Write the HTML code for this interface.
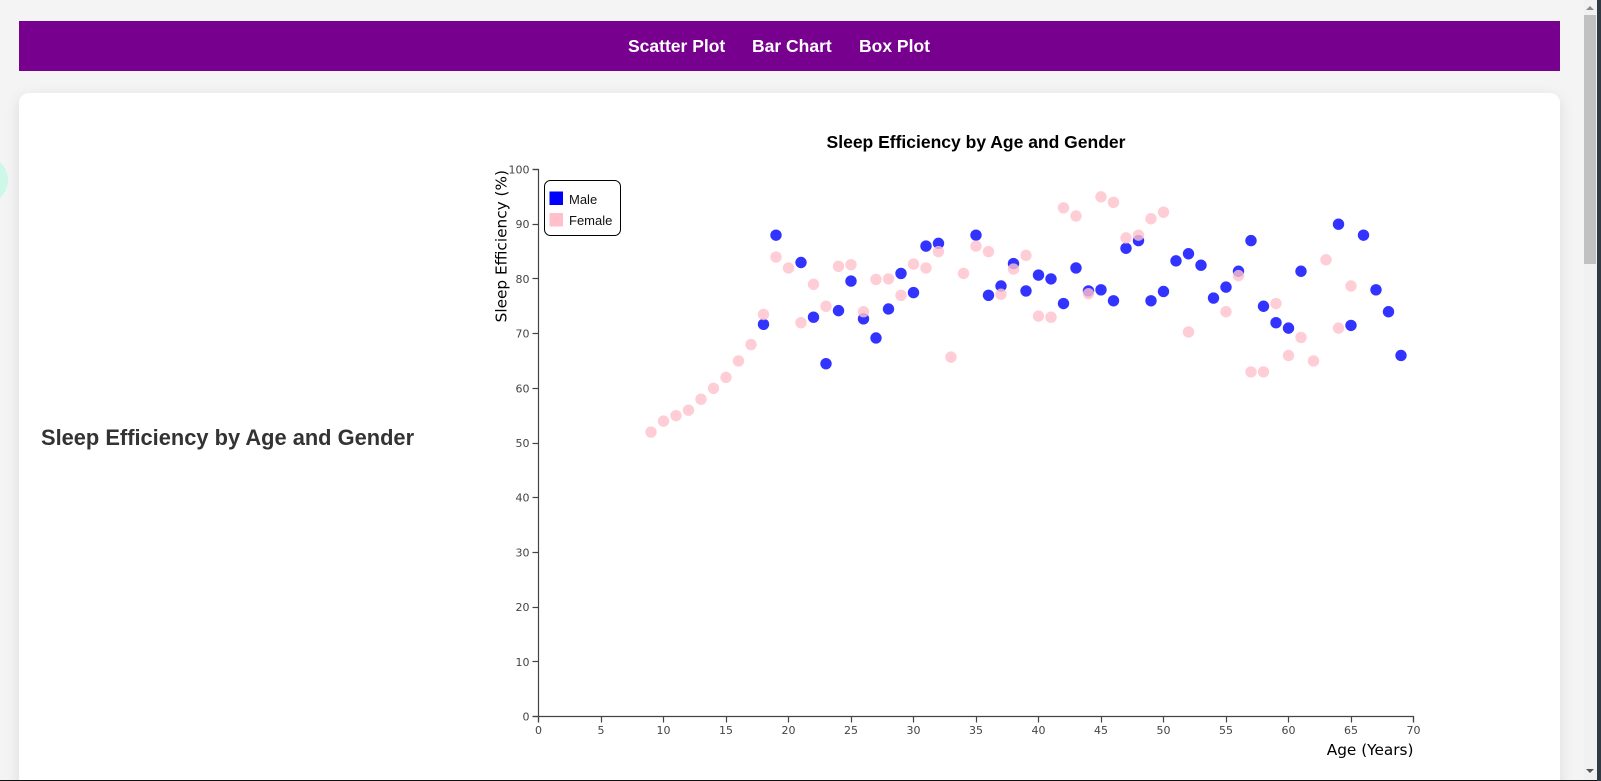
<!DOCTYPE html>
<html lang="en">
<head>
<meta charset="utf-8">
<title>Sleep Efficiency by Age and Gender</title>
<style>
  html, body { margin: 0; padding: 0; width: 1601px; height: 781px; overflow: hidden; background: #f4f4f5; font-family: "Liberation Sans", sans-serif; }
  #page { position: relative; width: 1601px; height: 781px; overflow: hidden; background: #f4f4f5; }
  .abs { position: absolute; }
  #mint-wrap { left: 0; top: 140px; width: 9px; height: 80px; overflow: hidden; }
  #mint { left: -40px; top: 16px; width: 48px; height: 48px; border-radius: 50%; background: #cdf8e8; }
  #header { left: 19px; top: 21px; width: 1541px; height: 50px; background: #78008f; }
  .nav { top: 35px; font-size: 17.5px; font-weight: bold; line-height: 22px; color: #fff; white-space: nowrap; cursor: pointer; }
  #card { left: 19px; top: 93px; width: 1541px; height: 720px; background: #fff; border-radius: 10px; box-shadow: 0 4px 15px rgba(0,0,0,0.1); }
  #side-title { left: 41px; top: 424px; margin: 0; font-size: 21.85px; font-weight: bold; line-height: 28px; color: #333; white-space: nowrap; }
  #chart { left: 0; top: 0; }
  #scroll-track { left: 1584px; top: 0; width: 13px; height: 780px; background: #f1f1f1; }
  #scroll-thumb { left: 1584px; top: 15px; width: 12px; height: 249px; background: #c1c1c1; }
  #scroll-up { left: 1586px; top: 6px; width: 0; height: 0; border-left: 4px solid transparent; border-right: 4px solid transparent; border-bottom: 4px solid #8a8a8a; }
  #scroll-down { left: 1586px; top: 769px; width: 0; height: 0; border-left: 4px solid transparent; border-right: 4px solid transparent; border-top: 4px solid #555; }
  #edge-right { left: 1597px; top: 0; width: 4px; height: 781px; background: #2f3a44; }
  #edge-bottom { left: 0; top: 780px; width: 1597px; height: 1px; background: #111; }
</style>
</head>
<body>
<div id="page">
  <div class="abs" id="mint-wrap"><div class="abs" id="mint"></div></div>
  <div class="abs" id="header"></div>
  <a class="abs nav" style="left:628px">Scatter Plot</a>
  <a class="abs nav" style="left:752px">Bar Chart</a>
  <a class="abs nav" style="left:859px">Box Plot</a>
  <div class="abs" id="card"></div>
  <h2 class="abs" id="side-title">Sleep Efficiency by Age and Gender</h2>

  <svg class="abs" id="chart" width="1601" height="781" xmlns="http://www.w3.org/2000/svg">
    <text x="976" y="148" text-anchor="middle" font-family="'Liberation Sans', sans-serif" font-size="17.5" font-weight="bold" fill="#000">Sleep Efficiency by Age and Gender</text>
    <g id="x-axis"></g>
    <g id="y-axis"></g>
    <text x="1413.5" y="755" text-anchor="end" font-family="'DejaVu Sans', sans-serif" font-size="15.3" fill="#000">Age (Years)</text>
    <text transform="translate(506.5,170) rotate(-90)" text-anchor="end" font-family="'DejaVu Sans', sans-serif" font-size="15.3" fill="#000">Sleep Efficiency (%)</text>
    <g id="male-points"></g>
    <g id="female-points"></g>
    <g>
      <rect x="544.5" y="180.5" width="76" height="55" rx="6" fill="#fff" stroke="#000" stroke-width="1"></rect>
      <rect x="549.5" y="191.5" width="13.5" height="13.5" fill="#0000ff"></rect>
      <text x="569" y="204" font-family="'Liberation Sans', sans-serif" font-size="13" fill="#111">Male</text>
      <rect x="549.5" y="213" width="13.5" height="13.5" fill="#ffc0cb"></rect>
      <text x="569" y="225" font-family="'Liberation Sans', sans-serif" font-size="13" fill="#111">Female</text>
    </g>
  </svg>

  <div class="abs" id="scroll-track"></div>
  <div class="abs" id="scroll-thumb"></div>
  <div class="abs" id="scroll-up"></div>
  <div class="abs" id="scroll-down"></div>
  <div class="abs" id="edge-right"></div>
  <div class="abs" id="edge-bottom"></div>
</div>

<script>
const xTicks = [0, 5, 10, 15, 20, 25, 30, 35, 40, 45, 50, 55, 60, 65, 70];
const yTicks = [0, 10, 20, 30, 40, 50, 60, 70, 80, 90, 100];
const maleAges = [18, 19, 21, 22, 23, 24, 25, 26, 27, 28, 29, 30, 31, 32, 35, 36, 37, 38, 39, 40, 41, 42, 43, 44, 45, 46, 47, 48, 49, 50, 51, 52, 53, 54, 55, 56, 57, 58, 59, 60, 61, 64, 65, 66, 67, 68, 69];
const maleEfficiency = [71.7, 88, 83, 73, 64.5, 74.2, 79.6, 72.7, 69.2, 74.5, 81, 77.5, 86, 86.5, 88, 77, 78.7, 82.8, 77.8, 80.7, 80, 75.5, 82, 77.8, 78, 76, 85.6, 87, 76, 77.7, 83.3, 84.6, 82.5, 76.5, 78.5, 81.4, 87, 75, 72, 71, 81.4, 90, 71.5, 88, 78, 74, 66];
const femaleAges = [9, 10, 11, 12, 13, 14, 15, 16, 17, 18, 19, 20, 21, 22, 23, 24, 25, 26, 27, 28, 29, 30, 31, 32, 33, 34, 35, 36, 37, 38, 39, 40, 41, 42, 43, 44, 45, 46, 47, 48, 49, 50, 52, 55, 56, 57, 58, 59, 60, 61, 62, 63, 64, 65];
const femaleEfficiency = [52, 54, 55, 56, 58, 60, 62, 65, 68, 73.5, 84, 82, 72, 79, 75, 82.3, 82.6, 74, 79.9, 80, 77, 82.7, 82, 85, 65.7, 81, 86, 85, 77.2, 81.8, 84.3, 73.2, 73, 93, 91.5, 77.3, 95, 94, 87.5, 88, 91, 92.2, 70.3, 74, 80.6, 63, 63, 75.5, 66, 69.3, 65, 83.5, 71, 78.7];

const X_DOMAIN = [0, 70];
const Y_DOMAIN = [0, 100];
const PLOT = { left: 538.5, right: 1413.5, top: 169.5, bottom: 716.5 };
const SVG_NS = 'http://www.w3.org/2000/svg';

function xScale(v) {
  return PLOT.left + (v - X_DOMAIN[0]) / (X_DOMAIN[1] - X_DOMAIN[0]) * (PLOT.right - PLOT.left);
}
function yScale(v) {
  return PLOT.bottom - (v - Y_DOMAIN[0]) / (Y_DOMAIN[1] - Y_DOMAIN[0]) * (PLOT.bottom - PLOT.top);
}
function make(tag, attrs, parent) {
  const el = document.createElementNS(SVG_NS, tag);
  Object.keys(attrs).forEach(function (k) { el.setAttribute(k, attrs[k]); });
  parent.appendChild(el);
  return el;
}

const xAxis = document.getElementById('x-axis');
const yAxis = document.getElementById('y-axis');
const AXIS_COLOR = '#444';
const AXIS_WIDTH = 1.2;
const LABEL_FONT = "'DejaVu Sans', sans-serif";

const xDomainPath = make('path', { d: 'M' + PLOT.left + ',' + (PLOT.bottom + 6) + 'V' + PLOT.bottom + 'H' + PLOT.right + 'V' + (PLOT.bottom + 6), fill: 'none', stroke: AXIS_COLOR, 'stroke-width': AXIS_WIDTH }, xAxis);


const yDomainPath = make('path', { d: 'M' + (PLOT.left - 6) + ',' + PLOT.top + 'H' + PLOT.left + 'V' + PLOT.bottom + 'H' + (PLOT.left - 6), fill: 'none', stroke: AXIS_COLOR, 'stroke-width': AXIS_WIDTH }, yAxis);



xTicks.forEach(function (t) {
  const px = Math.round(xScale(t) - 0.5) + 0.5;
  const tick = make('line', { x1: px, x2: px, y1: PLOT.bottom, y2: PLOT.bottom + 6, stroke: AXIS_COLOR, 'stroke-width': AXIS_WIDTH }, xAxis);
  
  
  const label = make('text', { x: xScale(t), y: PLOT.bottom + 17.5, 'text-anchor': 'middle', 'font-family': LABEL_FONT, 'font-size': 11, fill: AXIS_COLOR }, xAxis);
  
  
  label.textContent = t;
});

yTicks.forEach(function (t) {
  const py = Math.round(yScale(t) - 0.5) + 0.5;
  const tick = make('line', { x1: PLOT.left - 6, x2: PLOT.left, y1: py, y2: py, stroke: AXIS_COLOR, 'stroke-width': AXIS_WIDTH }, yAxis);
  
  
  const label = make('text', { x: PLOT.left - 9, y: yScale(t) + 4, 'text-anchor': 'end', 'font-family': LABEL_FONT, 'font-size': 11, fill: AXIS_COLOR }, yAxis);
  
  
  label.textContent = t;
});

const maleGroup = document.getElementById('male-points');
maleAges.forEach(function (age, i) {
  const dot = make('circle', { cx: xScale(age), cy: yScale(maleEfficiency[i]), r: 5.7, fill: '#0000ff', 'fill-opacity': 0.8 }, maleGroup);
  
  
});

const femaleGroup = document.getElementById('female-points');
femaleAges.forEach(function (age, i) {
  const dot = make('circle', { cx: xScale(age), cy: yScale(femaleEfficiency[i]), r: 5.7, fill: '#ffc0cb', 'fill-opacity': 0.8 }, femaleGroup);
  
  
});
</script>
</body>
</html>
